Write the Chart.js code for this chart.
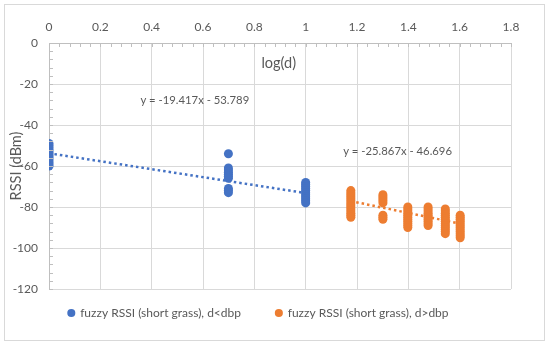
<!DOCTYPE html>
<html>
<head>
<meta charset="utf-8">
<script src="https://cdn.jsdelivr.net/npm/chart.js@4/dist/chart.umd.min.js"></script>
<style>
  html, body { margin: 0; padding: 0; background: #fff; }
  #wrap { width: 550px; height: 346px; }
</style>
</head>
<body>
<div id="wrap"><canvas id="rssi" width="550" height="346"></canvas></div>
<script>
// log(d) positions and RSSI samples
const blueX = [0, 0.699, 1];
const blueY = [
    [-49, -50, -51, -52, -53, -54, -55, -56, -57, -58, -59, -60],
    [-54, -61, -62, -63, -64, -65, -66, -71, -72, -73],
    [-68, -69, -70, -71, -72, -73, -74, -75, -76, -77, -78]
];
const orangeX = [1.176, 1.301, 1.398, 1.477, 1.544, 1.602];
const orangeY = [
    [-72, -73, -74, -75, -76, -77, -78, -79, -80, -81, -82, -83, -84, -85],
    [-74, -75, -76, -77, -78, -84, -85, -86],
    [-80, -81, -82, -83, -84, -85, -86, -87, -88, -89, -90],
    [-80, -81, -82, -83, -84, -85, -86, -87, -88, -89],
    [-81, -82, -83, -84, -85, -86, -87, -88, -89, -90, -91, -92, -93],
    [-84, -85, -86, -87, -88, -89, -90, -91, -92, -93, -94, -95]
];
// linear trendlines (end points)
const blueTrendX = [0, 1];
const blueTrendY = [-53.789, -73.206];
const orangeTrendX = [1.176, 1.602];
const orangeTrendY = [-77.116, -88.135];
const labels = ['fuzzy RSSI (short grass), d<dbp', 'fuzzy RSSI (short grass), d>dbp'];
const eqText = ['y = -19.417x - 53.789', 'y = -25.867x - 46.696'];

const BLUE = '#4472C4';
const ORANGE = '#ED7D31';
const TXT = '#595959';
const FONT = 'Lato, "Open Sans", sans-serif';

function toPoints(xs, ys) {
    const pts = [];
    xs.forEach((x, i) => ys[i].forEach(y => pts.push({x: x, y: y})));
    return pts;
}
function toLine(xs, ys) {
    return xs.map((x, i) => ({x: x, y: ys[i]}));
}

// extra bits Excel draws: outer frame, minor ticks, equations, axis titles
const extras = {
    id: 'extras',
    afterLayout(chart) {
        // pull the legend up closer to the plot, nudge it right a bit
        chart.legend.top -= 17;
        chart.legend.bottom -= 17;
        chart.legend.left += 3;
        chart.legend.right += 3;
    },
    beforeDraw(chart) {
        const c = chart.ctx;
        c.save();
        c.fillStyle = '#fff';
        c.fillRect(0, 0, chart.width, chart.height);
        c.strokeStyle = '#d9d9d9';
        c.lineWidth = 1;
        c.strokeRect(4.5, 4.5, 540, 336);
        c.restore();
    },
    afterDraw(chart) {
        const c = chart.ctx;
        const xs = chart.scales.x, ys = chart.scales.y;
        const a = chart.chartArea;
        c.save();
        c.strokeStyle = '#bfbfbf';
        c.lineWidth = 1;
        c.beginPath();
        for (let v = 0; v <= 1.8001; v += 0.04) {
            const px = Math.round(xs.getPixelForValue(v)) + 0.5;
            c.moveTo(px, a.top);
            c.lineTo(px, a.top + 4);
        }
        for (let v = 0; v >= -120.001; v -= 4) {
            const py = Math.round(ys.getPixelForValue(v)) + 0.5;
            c.moveTo(a.left, py);
            c.lineTo(a.left + 4, py);
        }
        c.stroke();

        c.fillStyle = TXT;
        c.font = '11.3px ' + FONT;
        c.textAlign = 'center';
        c.textBaseline = 'middle';
        c.fillText(eqText[0], xs.getPixelForValue(0.568), ys.getPixelForValue(-27.9));
        c.fillText(eqText[1], xs.getPixelForValue(1.358), ys.getPixelForValue(-53));
        c.font = '14.5px ' + FONT;
        c.fillText('log(d)', xs.getPixelForValue(0.895), ys.getPixelForValue(-9.7));
        c.translate(16, (a.top + a.bottom) / 2);
        c.rotate(-Math.PI / 2);
        c.fillText('RSSI (dBm)', 0, 0);
        c.restore();
    }
};

const config = {
    type: 'scatter',
    data: {
        datasets: [{
            label: labels[0],
            data: toPoints(blueX, blueY),
            backgroundColor: BLUE,
            borderColor: BLUE,
            pointRadius: 4.5,
            pointBorderWidth: 0,
            order: 2
        }, {
            label: labels[1],
            data: toPoints(orangeX, orangeY),
            backgroundColor: ORANGE,
            borderColor: ORANGE,
            pointRadius: 4.5,
            pointBorderWidth: 0,
            order: 2
        }, {
            label: 'trend1',
            type: 'line',
            data: toLine(blueTrendX, blueTrendY),
            borderColor: BLUE,
            borderWidth: 2.5,
            borderDash: [2.5, 3],
            pointRadius: 0,
            fill: false,
            order: 1
        }, {
            label: 'trend2',
            type: 'line',
            data: toLine(orangeTrendX, orangeTrendY),
            borderColor: ORANGE,
            borderWidth: 2.5,
            borderDash: [2.5, 3],
            pointRadius: 0,
            fill: false,
            order: 1
        }]
    },
    options: {
        responsive: false,
        animation: false,
        devicePixelRatio: 1,
        layout: { padding: { left: 0, top: 0, right: 39, bottom: 0 } },
        plugins: {
            legend: {
                position: 'bottom',
                labels: {
                    usePointStyle: true,
                    pointStyle: 'circle',
                    boxWidth: 5.7,
                    boxHeight: 5.7,
                    padding: 35,
                    color: TXT,
                    font: { family: FONT, size: 12 },
                    filter: item => item.datasetIndex < 2
                }
            },
            tooltip: { enabled: false }
        },
        scales: {
            x: {
                type: 'linear',
                position: 'top',
                min: 0,
                max: 1.8,
                afterFit: s => { s.height = 43; },
                ticks: {
                    stepSize: 0.2, color: TXT, padding: 9, font: { family: FONT, size: 12 },
                    callback: v => String(+v.toFixed(1))
                },
                grid: { color: '#d9d9d9', drawTicks: false },
                border: { color: '#bfbfbf' }
            },
            y: {
                min: -120,
                max: 0,
                afterFit: s => { s.width = 49; },
                ticks: { stepSize: 20, color: TXT, padding: 11, font: { family: FONT, size: 12 } },
                grid: { color: '#d9d9d9', drawTicks: false },
                border: { color: '#bfbfbf' }
            }
        }
    },
    plugins: [extras]
};

const chart = new Chart(document.getElementById('rssi'), config);
</script>
</body>
</html>
